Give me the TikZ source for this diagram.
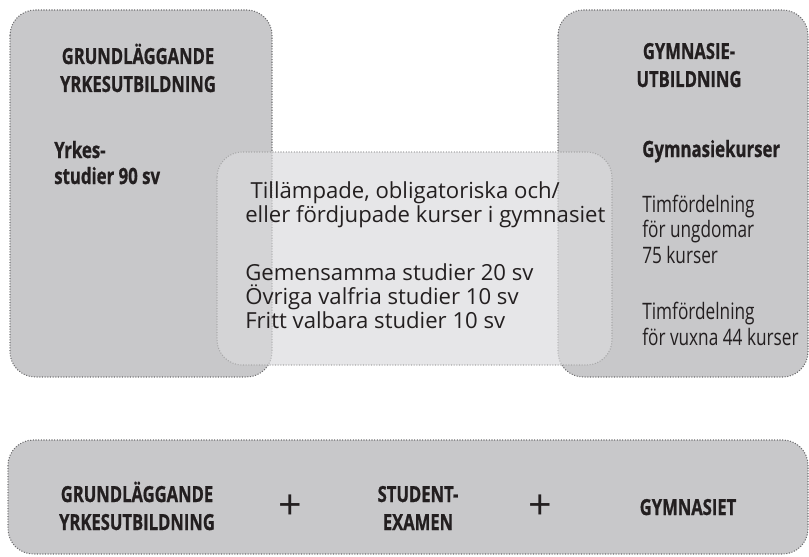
\documentclass[tikz,border=0pt]{standalone}
\usepackage{fontspec}
\setmainfont{Open Sans}
\newfontfamily\narrowfont[FakeStretch=0.76]{Open Sans}
\newfontfamily\headfont[FakeStretch=0.75, FakeBold=0.8]{Open Sans}
\usepackage{tikz}

\definecolor{boxgray}{RGB}{200,200,202}
\definecolor{midgray}{RGB}{218,218,220}
\definecolor{ink}{RGB}{35,31,32}
\definecolor{rimgray}{RGB}{110,110,112}

\begin{document}
\begin{tikzpicture}[x=0.75pt, y=-0.75pt]
	\tikzstyle{every node} = [text=ink, inner sep=0pt]
	\tikzstyle{bigbox} = [fill=boxgray, draw=rimgray, line width=0.8pt, dash pattern=on 0.8pt off 1.2pt, rounded corners=19pt]
	\tikzstyle{midbox} = [fill=midgray, fill opacity=0.67, draw=rimgray!60, line width=0.8pt, dash pattern=on 0.8pt off 1.2pt, rounded corners=19pt]
	\tikzstyle{head} = [font=\headfont\bfseries\fontsize{16.6}{21}\selectfont, align=center, anchor=base]
	\tikzstyle{sub} = [font=\headfont\bfseries\fontsize{16.8}{19.5}\selectfont, align=left, anchor=base west]
	\tikzstyle{plain} = [font=\narrowfont\fontsize{17}{19.1}\selectfont, align=left, anchor=base west]
	\tikzstyle{midtext} = [font=\fontsize{16.6}{18}\selectfont, align=left, anchor=base west]
	\tikzstyle{plus} = [font=\fontsize{31}{31}\selectfont]
	\useasboundingbox (0,0) rectangle (809,556);
	% boxes
	\draw[bigbox] (10,10) rectangle (272,377);
	\draw[bigbox] (558,10) rectangle (808,377);
	\draw[midbox] (217,152) rectangle (612,365);
	\draw[bigbox] (8,440) rectangle (808,554);
	% left box (base = last line)
	\node[head] (lhead) at (138,92) {GRUNDLÄGGANDE\\YRKESUTBILDNING};
	\node[sub] (lstud) at (54,184) {Yrkes-\\studier 90 sv};
	% right box
	\node[head] (rhead) at (689,87) {GYMNASIE-\\UTBILDNING};
	\node[sub] (rkurs) at (642,157) {Gymnasiekurser};
	\node[plain] (rungd) at (642,263) {Timfördelning\\för ungdomar\\75 kurser};
	\node[plain] (rvux) at (642,345) {Timfördelning\\för vuxna 44 kurser};
	% middle box
	\node[midtext] (mtop) at (245,222) {\hspace{4pt}Tillämpade, obligatoriska och/\\eller fördjupade kurser i gymnasiet};
	\node[midtext] (mlist) at (245,328) {Gemensamma studier 20 sv\\Övriga valfria studier 10 sv\\Fritt valbara studier 10 sv};
	% bottom box
	\node[head] (bgrund) at (137,530) {GRUNDLÄGGANDE\\YRKESUTBILDNING};
	\node[plus] (plusa) at (290,507) {+};
	\node[head] (bstud) at (418,530) {STUDENT-\\EXAMEN};
	\node[plus] (plusb) at (540,507) {+};
	\node[head] (bgymn) at (688,515) {GYMNASIET};
\end{tikzpicture}
\end{document}
